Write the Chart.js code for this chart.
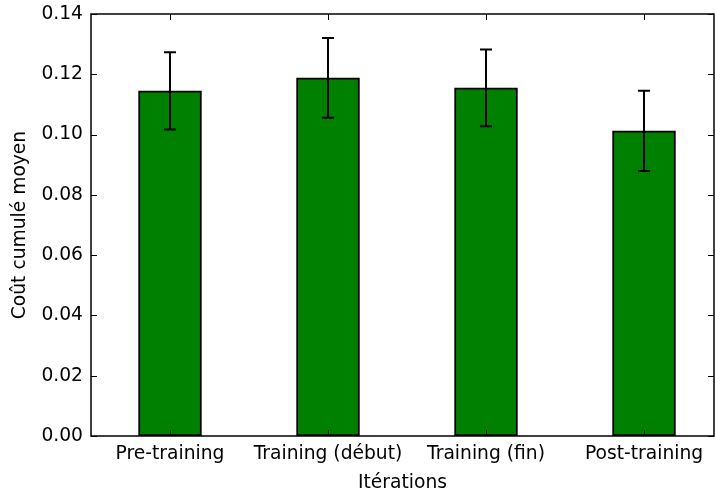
<!DOCTYPE html>
<html>
<head>
<meta charset="utf-8">
<script src="https://cdn.jsdelivr.net/npm/chart.js@4"></script>
<style>
  html, body { margin: 0; padding: 0; background: #fff; }
  #wrap { width: 715px; height: 492px; }
</style>
</head>
<body>
<div id="wrap"><canvas id="costChart" width="715" height="492"></canvas></div>
<script>
// data
const categories = ["Pre-training", "Training (début)", "Training (fin)", "Post-training"];
const meanCost = [0.1145, 0.1188, 0.1155, 0.1012];
const errCost = [0.0128, 0.0132, 0.0127, 0.0133];
const yTicks = [0, 0.02, 0.04, 0.06, 0.08, 0.1, 0.12, 0.14];

const FONT = "'DejaVu Sans', sans-serif";
const FS = 18.7;

// error bars, ticks pointing inward and the box round the plot
const decorations = {
  id: "decorations",
  afterDatasetsDraw(chart) {
    const ctx = chart.ctx;
    const x = chart.scales.x;
    const y = chart.scales.y;
    const area = chart.chartArea;
    ctx.save();
    ctx.strokeStyle = "#000";
    ctx.lineWidth = 2;
    meanCost.forEach(function (v, i) {
      const px = x.getPixelForValue(i);
      const top = y.getPixelForValue(v + errCost[i]);
      const bot = y.getPixelForValue(v - errCost[i]);
      ctx.beginPath();
      ctx.moveTo(px, top);
      ctx.lineTo(px, bot);
      ctx.moveTo(px - 6, top);
      ctx.lineTo(px + 6, top);
      ctx.moveTo(px - 6, bot);
      ctx.lineTo(px + 6, bot);
      ctx.stroke();
    });

    ctx.lineWidth = 1;
    const tl = 6;
    yTicks.forEach(function (t) {
      const py = Math.round(y.getPixelForValue(t)) + 0.5;
      ctx.beginPath();
      ctx.moveTo(area.left, py);
      ctx.lineTo(area.left + tl, py);
      ctx.moveTo(area.right, py);
      ctx.lineTo(area.right - tl, py);
      ctx.stroke();
    });
    categories.forEach(function (c, i) {
      const px = Math.round(x.getPixelForValue(i)) + 0.5;
      ctx.beginPath();
      ctx.moveTo(px, area.bottom);
      ctx.lineTo(px, area.bottom - tl);
      ctx.moveTo(px, area.top);
      ctx.lineTo(px, area.top + tl);
      ctx.stroke();
    });

    ctx.lineWidth = 1.5;
    ctx.strokeRect(area.left, area.top, area.right - area.left, area.bottom - area.top);
    ctx.restore();
  },
};

const ctx = document.getElementById("costChart").getContext("2d");
new Chart(ctx, {
  type: "bar",
  data: {
    datasets: [
      {
        data: meanCost.map(function (v, i) {
          return { x: i, y: v };
        }),
        backgroundColor: "#008000",
        borderColor: "#000",
        borderWidth: 2,
        borderSkipped: false,
        barThickness: 63,
      },
    ],
  },
  options: {
    responsive: false,
    animation: false,
    layout: { padding: { top: 14, right: 1, left: 0, bottom: 0 } },
    plugins: {
      legend: { display: false },
      tooltip: { enabled: false },
    },
    scales: {
      x: {
        type: "linear",
        min: -0.5,
        max: 3.443,
        offset: false,
        grid: { display: false },
        border: { display: false },
        afterBuildTicks: function (scale) {
          scale.ticks = categories.map(function (c, i) {
            return { value: i };
          });
        },
        afterFit: function (scale) {
          scale.height = 56;
        },
        ticks: {
          autoSkip: false,
          maxRotation: 0,
          padding: -1,
          color: "#000",
          font: { family: FONT, size: FS },
          callback: function (v) {
            return categories[v];
          },
        },
        title: {
          display: true,
          text: "Itérations",
          color: "#000",
          font: { family: FONT, size: FS },
          padding: { top: 0, bottom: -2 },
        },
      },
      y: {
        min: 0,
        max: 0.14,
        grid: { display: false },
        border: { display: false },
        afterBuildTicks: function (scale) {
          scale.ticks = yTicks.map(function (t) {
            return { value: t };
          });
        },
        afterFit: function (scale) {
          scale.width = 91;
        },
        ticks: {
          padding: 0,
          color: "#000",
          font: { family: FONT, size: FS },
          callback: function (v) {
            return v.toFixed(2);
          },
        },
        title: {
          display: true,
          text: "Coût cumulé moyen",
          color: "#000",
          font: { family: FONT, size: FS },
          padding: { top: 9, bottom: 2 },
        },
      },
    },
  },
  plugins: [decorations],
});
</script>
</body>
</html>
